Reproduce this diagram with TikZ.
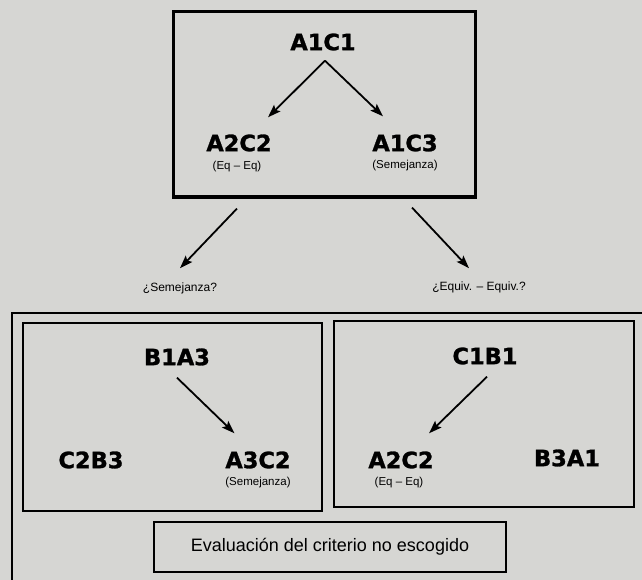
\documentclass[tikz,border=0pt]{standalone}
\usepackage{fontspec}
\setmainfont{Liberation Sans}
\newfontfamily\labfont[FakeBold=1.2]{DejaVu Sans Bold}
\usetikzlibrary{arrows.meta,calc}
\definecolor{paper}{RGB}{214,214,211}
\begin{document}
\begin{tikzpicture}[x=1pt,y=-1pt,
  lab/.style={inner sep=0pt,font=\labfont\fontsize{22.5}{22}\selectfont},
  sub/.style={inner sep=0pt,font=\fontsize{11.5}{12}\selectfont},
  que/.style={inner sep=0pt,font=\fontsize{12}{13}\selectfont},
  arr/.style={line width=1.8pt,-{Stealth[length=13pt,width=9pt,inset=2.5pt]}},
  boxline/.style={line width=2.6pt}]
\fill[paper] (0,0) rectangle (642,580);
\useasboundingbox (0,0) rectangle (642,580);
% top box
\draw[line width=3pt] (173,12) rectangle (475,197);
\node[lab] (A1C1) at (323,42) {A1C1};
\node[lab] (A2C2t) at (239,143) {A2C2};
\node[sub] (eqt) at (237,167) {(Eq – Eq)};
\node[lab] (A1C3) at (405,143) {A1C3};
\node[sub] (semt) at (405,166) {(Semejanza)};
\draw[arr] ($(A1C1.south)+(2,10)$) -- ($(A2C2t.north)+(29,-17)$);
\draw[arr] ($(A1C1.south)+(2,10)$) -- ($(A1C3.north)+(-22,-18)$);
% questions
\node[que] (qsem) at (180,288) {¿Semejanza?};
\node[que] (qeq) at (479,287) {¿Equiv. – Equiv.?};
\draw[arr] ($(eqt.south)+(0,36)$) -- ($(qsem.north)+(0,-14)$);
\draw[arr] ($(semt.south)+(7,36)$) -- ($(qeq.north)+(-10,-13)$);
% outer box
\draw[boxline] (12,580) -- (12,313) -- (642,313);
% left inner box
\draw[boxline] (23,323) rectangle (322,511);
\node[lab] (B1A3) at (177,357) {B1A3};
\node[lab] (C2B3) at (91,460) {C2B3};
\node[lab] (A3C2) at (258,460) {A3C2};
\node[sub] (seml) at (258,483) {(Semejanza)};
\draw[arr] ($(B1A3.south)+(0,12)$) -- ($(A3C2.north)+(-23.5,-18)$);
% right inner box
\draw[boxline] (334,321) rectangle (634,507);
\node[lab] (C1B1) at (485,356) {C1B1};
\node[lab] (A2C2b) at (401,460) {A2C2};
\node[sub] (eqb) at (399,483) {(Eq – Eq)};
\node[lab] (B3A1) at (567,458) {B3A1};
\draw[arr] ($(C1B1.south)+(2,12)$) -- ($(A2C2b.north)+(28,-18)$);
% evaluation box
\draw[boxline] (154,522) rectangle (506,572);
\node[inner sep=0pt,font=\fontsize{18}{18}\selectfont] (eval) at (330,547) {Evaluación del criterio no escogido};
\end{tikzpicture}
\end{document}
